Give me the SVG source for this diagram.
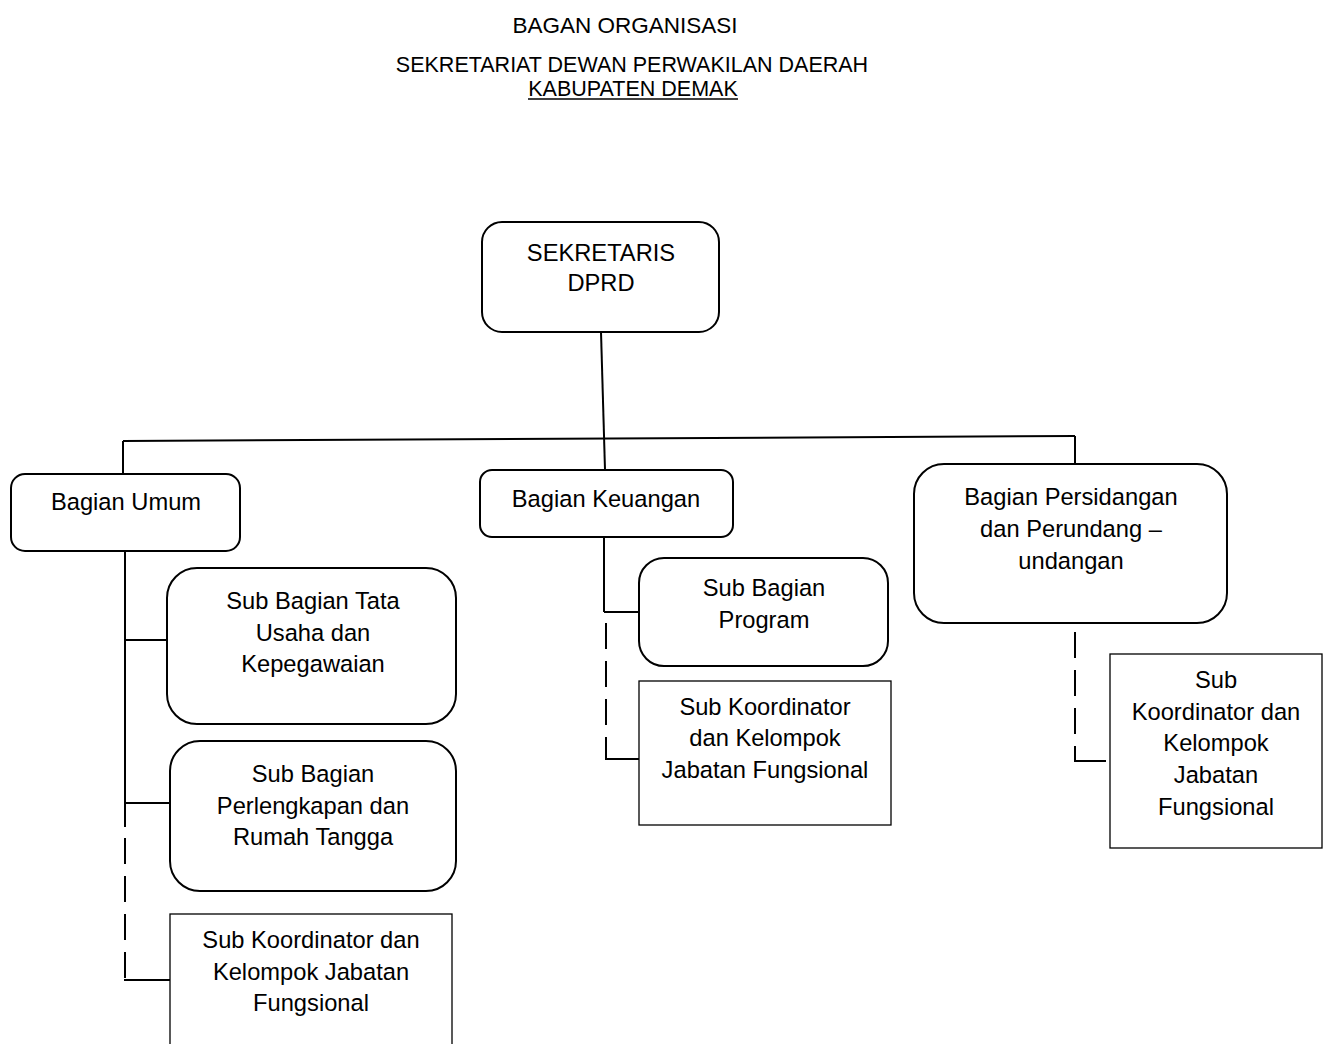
<svg xmlns="http://www.w3.org/2000/svg" width="1329" height="1044" viewBox="0 0 1329 1044">
<style>
text{font-family:"Liberation Sans",Arial,sans-serif;fill:#000;text-anchor:middle}
.t{font-size:21.5px}
.n{font-size:23.7px}
.box{fill:#fff;stroke:#000;stroke-width:2}
.sq{fill:#fff;stroke:#000;stroke-width:1.3}
.ln{stroke:#000;stroke-width:2;fill:none}
.ds{stroke:#000;stroke-width:2;fill:none;stroke-dasharray:26 12}
</style>
<rect width="1329" height="1044" fill="#fff"/>
<g id="title">
<text class="t" x="625" y="33" style="font-size:22.5px">BAGAN ORGANISASI</text>
<text class="t" x="632" y="72">SEKRETARIAT DEWAN PERWAKILAN DAERAH</text>
<text class="t" x="633" y="96">KABUPATEN DEMAK</text>
<line x1="528" y1="99" x2="738" y2="99" stroke="#000" stroke-width="1.5"/>
</g>
<g id="connectors">
<line class="ln" x1="601" y1="332" x2="605" y2="470"/>
<line class="ln" x1="123" y1="441" x2="1075" y2="436"/>
<line class="ln" x1="123" y1="441" x2="123" y2="474"/>
<line class="ln" x1="1075" y1="436" x2="1075" y2="470"/>
<line class="ln" x1="125" y1="551" x2="125" y2="827"/>
<line class="ln" x1="125" y1="640" x2="167" y2="640"/>
<line class="ln" x1="125" y1="803" x2="170" y2="803"/>
<line class="ds" x1="125" y1="838" x2="125" y2="980"/>
<line class="ln" x1="124" y1="980" x2="170" y2="980"/>
<line class="ln" x1="604" y1="537" x2="604" y2="612"/>
<line class="ln" x1="604" y1="612" x2="639" y2="612"/>
<line class="ds" x1="606" y1="623" x2="606" y2="760"/>
<line class="ln" x1="605" y1="759" x2="639" y2="759"/>
<line class="ds" x1="1075" y1="632" x2="1075" y2="761"/>
<line class="ln" x1="1074" y1="761" x2="1106" y2="761"/>
</g>
<g id="sekretaris">
<rect class="box" x="482" y="222" width="237" height="110" rx="20"/>
<text class="n" x="601" y="261">SEKRETARIS</text>
<text class="n" x="601" y="291">DPRD</text>
</g>
<g id="bagian-umum">
<rect class="box" x="11" y="474" width="229" height="77" rx="14"/>
<text class="n" x="126" y="510">Bagian Umum</text>
</g>
<g id="bagian-keuangan">
<rect class="box" x="480" y="470" width="253" height="67" rx="12"/>
<text class="n" x="606" y="507">Bagian Keuangan</text>
</g>
<g id="bagian-persidangan">
<rect class="box" x="914" y="464" width="313" height="159" rx="30"/>
<text class="n" x="1071" y="505">Bagian Persidangan</text>
<text class="n" x="1071" y="537">dan Perundang –</text>
<text class="n" x="1071" y="569">undangan</text>
</g>
<g id="sub-tata-usaha">
<rect class="box" x="167" y="568" width="289" height="156" rx="30"/>
<text class="n" x="313" y="609">Sub Bagian Tata</text>
<text class="n" x="313" y="641">Usaha dan</text>
<text class="n" x="313" y="672">Kepegawaian</text>
</g>
<g id="sub-perlengkapan">
<rect class="box" x="170" y="741" width="286" height="150" rx="30"/>
<text class="n" x="313" y="782">Sub Bagian</text>
<text class="n" x="313" y="814">Perlengkapan dan</text>
<text class="n" x="313" y="845">Rumah Tangga</text>
</g>
<g id="sub-koordinator-umum">
<rect class="sq" x="170" y="914" width="282" height="140"/>
<text class="n" x="311" y="948">Sub Koordinator dan</text>
<text class="n" x="311" y="980">Kelompok Jabatan</text>
<text class="n" x="311" y="1011">Fungsional</text>
</g>
<g id="sub-program">
<rect class="box" x="639" y="558" width="249" height="108" rx="25"/>
<text class="n" x="764" y="596">Sub Bagian</text>
<text class="n" x="764" y="628">Program</text>
</g>
<g id="sub-koordinator-keuangan">
<rect class="sq" x="639" y="681" width="252" height="144"/>
<text class="n" x="765" y="715">Sub Koordinator</text>
<text class="n" x="765" y="746">dan Kelompok</text>
<text class="n" x="765" y="778">Jabatan Fungsional</text>
</g>
<g id="sub-koordinator-persidangan">
<rect class="sq" x="1110" y="654" width="212" height="194"/>
<text class="n" x="1216" y="688">Sub</text>
<text class="n" x="1216" y="720">Koordinator dan</text>
<text class="n" x="1216" y="751">Kelompok</text>
<text class="n" x="1216" y="783">Jabatan</text>
<text class="n" x="1216" y="815">Fungsional</text>
</g>
</svg>
